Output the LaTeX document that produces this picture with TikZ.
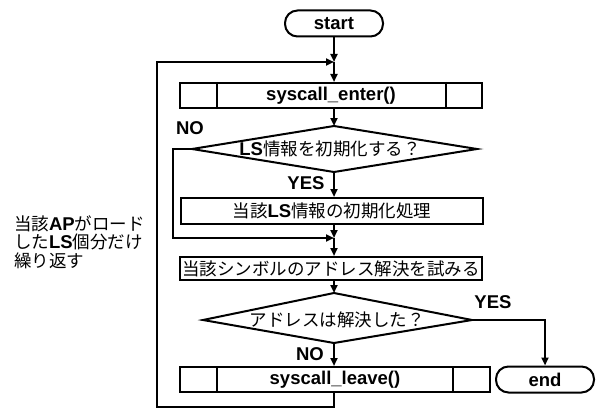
\documentclass[tikz,border=0pt]{standalone}
\usepackage{fontspec}
\setmainfont{Liberation Sans}
\newfontfamily\jpfont{Noto Sans CJK JP}
\usetikzlibrary{arrows.meta}
\newcommand{\J}[1]{{\jpfont #1}}
\newcommand{\B}[1]{{\fontsize{18.5}{20}\selectfont\bfseries #1}}
\begin{document}
\begin{tikzpicture}[x=1pt,y=-1pt,line width=2pt,
  every node/.style={font=\fontsize{17.5}{19}\selectfont, inner sep=0pt},
  arr/.style={-{Triangle[length=8pt,width=7pt]}},
  term/.style={draw, rounded corners=12.5pt, minimum height=26pt},
  proc/.style={draw, minimum height=25pt},
  lbl/.style={font=\fontsize{18.5}{20}\selectfont\bfseries},
  note/.style={align=left, font=\fontsize{17.5}{18.6}\selectfont}]
\path[use as bounding box] (0,0) rectangle (596,409);

% nodes
\node[term, minimum width=98pt] (start) at (334,23.5) {\B{start}};
\node[proc, minimum width=302pt] (enter) at (331,95.5) {\B{syscall\_enter()}};
\draw ([xshift=38pt]enter.north west) -- ([xshift=38pt]enter.south west);
\draw ([xshift=-37pt]enter.north east) -- ([xshift=-37pt]enter.south east);

\coordinate (d1t) at (334,126);
\coordinate (d1b) at (334,172);
\coordinate (d1l) at (192,149);
\coordinate (d1r) at (477,149);
\draw (d1t) -- (d1r) -- (d1b) -- (d1l) -- cycle;
\node (d1) at (330,149) {\B{LS}\J{情報を初期化する？}};

\node[proc, minimum width=302pt, minimum height=26pt] (init) at (332,211) {\J{当該}\B{LS}\J{情報の初期化処理}};
\node[proc, minimum width=302pt, minimum height=23pt] (try) at (331,268.5) {\J{当該シンボルのアドレス解決を試みる}};

\coordinate (d2t) at (334,293);
\coordinate (d2b) at (334,343);
\coordinate (d2l) at (203,320);
\coordinate (d2r) at (472,320);
\draw (d2t) -- (d2r) -- (d2b) -- (d2l) -- cycle;
\node (d2) at (337,320) {\J{アドレスは解決した？}};

\node[proc, minimum width=310pt] (leave) at (335,379.5) {\B{syscall\_leave()}};
\draw ([xshift=38pt]leave.north west) -- ([xshift=38pt]leave.south west);
\draw ([xshift=-38pt]leave.north east) -- ([xshift=-38pt]leave.south east);
\node[term, minimum width=98pt] (end) at (545,379.5) {\B{end}};

% labels
\node[lbl] (no1) at (190,128) {NO};
\node[lbl] (yes1) at (306,183) {YES};
\node[lbl] (yes2) at (493,302) {YES};
\node[lbl] (no2) at (310,354) {NO};
\node[note, anchor=west] (loopnote) at (13,242) {\J{当該}\B{AP}\J{がロード}\\\J{した}\B{LS}\J{個分だけ}\\\J{繰り返す}};

% connectors
\coordinate (join1) at (334,62);
\coordinate (join2) at (334,238);
\coordinate (nocorner) at (173,238);
\coordinate (loopcorner) at (157,407);
\draw[arr] (start.south) -- (join1);
\draw[arr] (join1) -- (join1 |- enter.north);
\draw[arr] (enter.south -| join1) -- (d1t);
\draw[arr] (d1b) -- (d1b |- init.north);
\draw[arr] (d1l) -| (nocorner) -- (join2);
\draw[arr] (init.south -| join1) -- (join2);
\draw[arr] (join2) -- (join2 |- try.north);
\draw[arr] (try.south -| join1) -- (d2t);
\draw[arr] (d2b) -- (d2b |- leave.north);
\draw[arr] (d2r) -| (end.north);
\draw[arr] (leave.south -| join1) |- (loopcorner) |- (join1);
\end{tikzpicture}
\end{document}
